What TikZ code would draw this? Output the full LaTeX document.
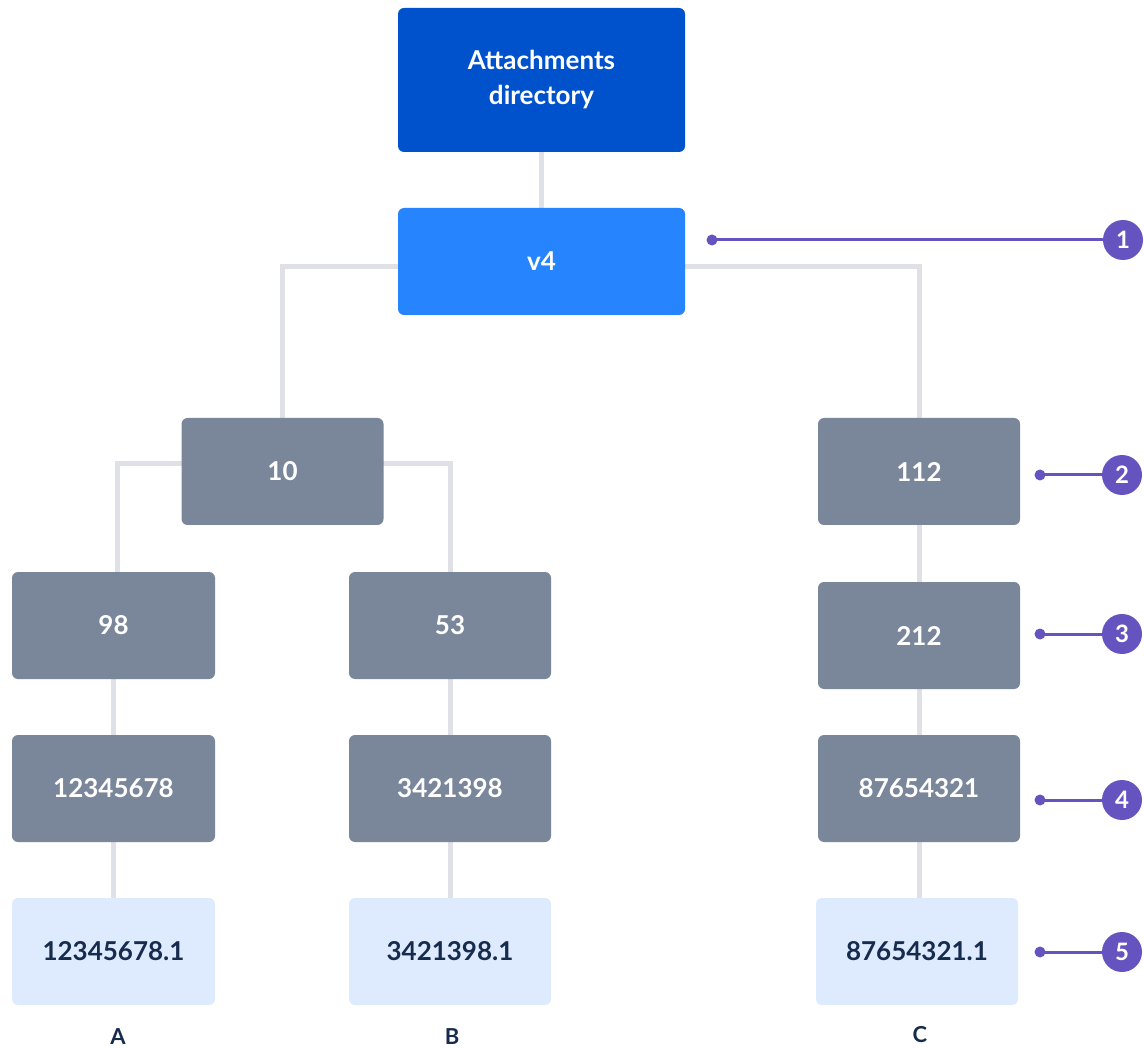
\documentclass[tikz,border=0pt]{standalone}
\usepackage{fontspec}
\setmainfont{Lato}
\usetikzlibrary{backgrounds}
\definecolor{darkblue}{HTML}{0052CC}
\definecolor{midblue}{HTML}{2684FF}
\definecolor{slate}{HTML}{7A869A}
\definecolor{pale}{HTML}{DEEBFF}
\definecolor{navy}{HTML}{172B4D}
\definecolor{conn}{HTML}{DFE1E6}
\definecolor{purp}{HTML}{6554C0}
\tikzset{
  box/.style={rectangle, rounded corners=6pt, minimum width=202pt, minimum height=107pt, inner sep=0pt, font=\fontsize{26}{33}\selectfont\bfseries, align=center},
  graybox/.style={box, fill=slate, text=white},
  leafbox/.style={box, fill=pale, text=navy},
  link/.style={draw=conn, line width=5pt},
  callout/.style={draw=purp, line width=3pt},
  badge/.style={circle, fill=purp, text=white, minimum size=40pt, inner sep=0pt, font=\fontsize{24}{28}\selectfont\bfseries},
  colname/.style={text=navy, font=\fontsize{22}{26}\selectfont\bfseries}
}
\begin{document}
\begin{tikzpicture}[x=1pt,y=-1pt]
\useasboundingbox (0,0) rectangle (1144,1048);
\node[box, fill=darkblue, text=white, minimum width=287pt, minimum height=144pt] (att) at (541.5,80) {Attachments\\[2pt]directory};
\node[box, fill=midblue, text=white, minimum width=287pt] (v4) at (541.5,261.5) {v4};
\node[graybox] (n10) at (282.5,471.5) {10};
\node[graybox] (n112) at (919,471.5) {112};
\node[graybox, minimum width=203pt] (n98) at (113.5,625.5) {98};
\node[graybox] (n53) at (450,625.5) {53};
\node[graybox] (n212) at (919,635.5) {212};
\node[graybox, minimum width=203pt] (a2) at (113.5,788.5) {12345678};
\node[graybox] (b2) at (450,788.5) {3421398};
\node[graybox] (c2) at (919,788.5) {87654321};
\node[leafbox, minimum width=203pt] (a3) at (113.5,951.5) {12345678.1};
\node[leafbox] (b3) at (450,951.5) {3421398.1};
\node[leafbox] (c3) at (917,951.5) {87654321.1};
\node[colname] (la) at (118,1037) {A};
\node[colname] (lb) at (452,1037) {B};
\node[colname] (lc) at (920,1035) {C};
\begin{scope}[on background layer]
\fill[white] (0,0) rectangle (1144,1048);
\draw[link] (att) -- (v4);
\draw[link] ([yshift=-5pt]v4.center) -| (n10);
\draw[link] ([yshift=-5pt]v4.center) -| (n112);
\draw[link] ([yshift=8pt]n10.center) -| ([xshift=4pt]n98.center);
\draw[link] ([yshift=8pt]n10.center) -| (n53);
\draw[link] (n98) -- (a2) -- (a3);
\draw[link] (n53) -- (b2) -- (b3);
\draw[link] (n112) -- (n212) -- (c2) -- (c2 |- c3);
\end{scope}
\coordinate (d1) at (712,240);
\coordinate (d2) at (1040,475);
\coordinate (d3) at (1040,634);
\coordinate (d4) at (1040,800);
\coordinate (d5) at (1040,952);
\node[badge] (c1) at (1123,240) {1};
\node[badge] (k2) at (1122,475) {2};
\node[badge] (k3) at (1122,634) {3};
\node[badge] (k4) at (1122,800) {4};
\node[badge] (k5) at (1122,952) {5};
\foreach \d/\c in {d1/c1,d2/k2,d3/k3,d4/k4,d5/k5}{
  \draw[callout] (\d) -- (\c);
  \fill[purp] (\d) circle (5.5pt);
}
\end{tikzpicture}
\end{document}
